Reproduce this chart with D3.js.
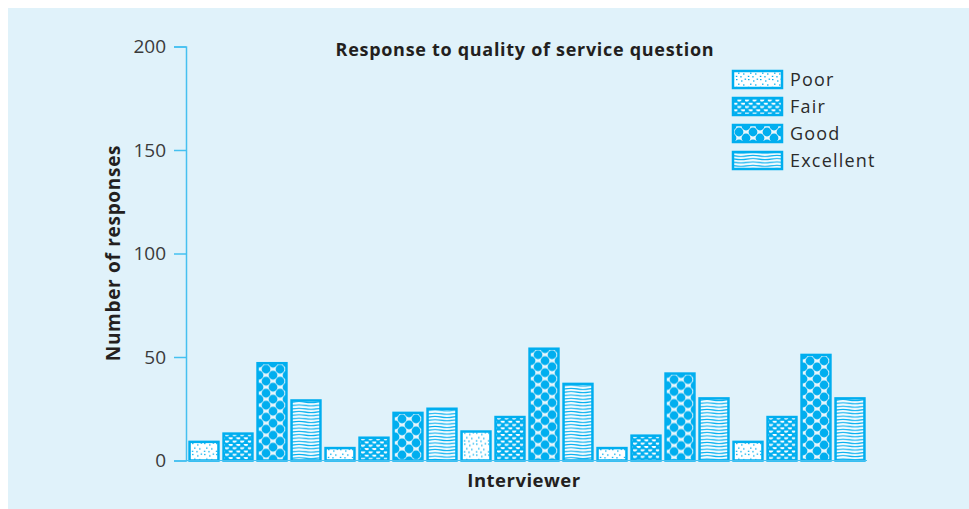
<!DOCTYPE html>
<html>
<head>
<meta charset="utf-8">
<script src="https://cdn.jsdelivr.net/npm/d3@7"></script>
<style>
  body { margin: 0; background: #fff; }
  text { font-family: "Open Sans", Roboto, sans-serif; }
</style>
</head>
<body>
<svg id="chart" width="969" height="509"></svg>
<script>
"use strict";
var interviewers = [1, 2, 3, 4, 5];
var categories = ["Poor", "Fair", "Good", "Excellent"];
var poor = [9, 6, 14, 6, 9];
var fair = [13, 11, 21, 12, 21];
var good = [47, 23, 54, 42, 51];
var excellent = [29, 25, 37, 30, 30];
var yTicks = [0, 50, 100, 150, 200];

var series = { Poor: poor, Fair: fair, Good: good, Excellent: excellent };
var blue = "#00aeef";
var axisBlue = "#45c0f0";
var ink = "#231f20";

var svg = d3.select("#chart");
var defs = svg.append("defs");

// background panel
svg.append("rect")
  .attr("x", 8).attr("y", 8)
  .attr("width", 961).attr("height", 501)
  .attr("fill", "#e0f2fa");

var y = d3.scaleLinear().domain([0, 200]).range([460.5, 46.5]);
var x0 = d3.scaleBand().domain(interviewers).range([187, 867]).padding(0);
var x1 = d3.scaleBand().domain(categories).range([0, x0.bandwidth()])
  .paddingInner(0.15).paddingOuter(0.075);

// patterns, one builder for each fill style
var stipple = [[1,1],[6,2.4],[9.6,0.6],[3,5.6],[8,6.4],[0.8,8.8],[5.2,9.2]];
function makePattern(id, cat, ox, oy) {
  var p = defs.append("pattern").attr("id", id)
    .attr("patternUnits", "userSpaceOnUse")
    .attr("x", ox).attr("y", oy);
  if (cat === "Poor") {
    p.attr("width", 12).attr("height", 11);
    p.append("rect").attr("width", 12).attr("height", 11).attr("fill", "#fff");
    stipple.forEach(function(d) {
      p.append("rect").attr("x", d[0]).attr("y", d[1])
        .attr("width", 1.5).attr("height", 1.2).attr("fill", blue);
    });
  } else if (cat === "Fair") {
    p.attr("width", 7.6).attr("height", 6.6);
    p.append("rect").attr("width", 7.6).attr("height", 6.6).attr("fill", blue);
    [[1.9, 1.5], [5.7, 4.8]].forEach(function(d) {
      p.append("path")
        .attr("d", "M" + (d[0] - 2.4) + "," + (d[1] - 1) +
          " h4.8 a2.4,2 0 0 1 -4.8,0 z")
        .attr("fill", "#fff");
    });
  } else if (cat === "Good") {
    p.attr("width", 14).attr("height", 12);
    p.append("rect").attr("width", 14).attr("height", 12).attr("fill", "#e9f6fc");
    [[0,0],[14,0],[7,6],[0,12],[14,12]].forEach(function(d) {
      p.append("circle").attr("cx", d[0]).attr("cy", d[1])
        .attr("r", 4.4).attr("fill", blue);
    });
  } else {
    p.attr("width", 24).attr("height", 3.3);
    p.append("rect").attr("width", 24).attr("height", 3.3).attr("fill", "#f4fbfe");
    p.append("path")
      .attr("d", "M0,1.65 Q6,0.5 12,1.65 T24,1.65")
      .attr("fill", "none").attr("stroke", blue).attr("stroke-width", 1.1);
  }
}

// bars
var barData = [];
interviewers.forEach(function(iv, i) {
  categories.forEach(function(c) {
    barData.push({ iv: iv, cat: c, value: series[c][i] });
  });
});

barData.forEach(function(d, i) {
  makePattern("pat" + i, d.cat, x0(d.iv) + x1(d.cat) + 1.5, y(d.value));
});

svg.append("g").selectAll("rect")
  .data(barData)
  .join("rect")
  .attr("x", function(d) { return x0(d.iv) + x1(d.cat); })
  .attr("y", function(d) { return y(d.value); })
  .attr("width", x1.bandwidth())
  .attr("height", function(d) { return y(0) - y(d.value); })
  .attr("fill", function(d, i) { return "url(#pat" + i + ")"; })
  .attr("stroke", blue)
  .attr("stroke-width", 2.5);

// baseline
svg.append("line")
  .attr("x1", 186).attr("x2", 867)
  .attr("y1", y(0)).attr("y2", y(0))
  .attr("stroke", axisBlue).attr("stroke-width", 1.2);

// y axis
var yAxis = svg.append("g")
  .attr("transform", "translate(186,0)")
  .call(d3.axisLeft(y).tickValues(yTicks).tickSize(12).tickPadding(8));
yAxis.select(".domain").attr("stroke", axisBlue).attr("stroke-width", 1.5);
yAxis.selectAll(".tick line").attr("stroke", axisBlue).attr("stroke-width", 1.5);
yAxis.selectAll(".tick text")
  .attr("fill", "#3a3a3a")
  .attr("font-size", 19)
  .style("font-family", "'Open Sans', sans-serif");

// titles
svg.append("text")
  .attr("x", 525).attr("y", 56)
  .attr("text-anchor", "middle")
  .attr("font-size", 18).attr("font-weight", "bold")
  .attr("letter-spacing", 0.7)
  .attr("fill", ink)
  .text("Response to quality of service question");

svg.append("text")
  .attr("transform", "translate(120,253) rotate(-90)")
  .attr("text-anchor", "middle")
  .attr("font-size", 19).attr("font-weight", "bold")
  .attr("letter-spacing", 0.7)
  .attr("fill", ink)
  .text("Number of responses");

svg.append("text")
  .attr("x", 524).attr("y", 487)
  .attr("text-anchor", "middle")
  .attr("font-size", 18.5).attr("font-weight", "bold")
  .attr("letter-spacing", 0.5)
  .attr("fill", ink)
  .text("Interviewer");

// legend
var legend = svg.append("g").attr("transform", "translate(733,71)");
categories.forEach(function(c, i) {
  makePattern("leg" + i, c, 734, 73 + i * 27);
  var row = legend.append("g").attr("transform", "translate(0," + (i * 27) + ")");
  row.append("rect")
    .attr("width", 49).attr("height", 17)
    .attr("fill", "url(#leg" + i + ")")
    .attr("stroke", blue).attr("stroke-width", 2.5);
  row.append("text")
    .attr("x", 57).attr("y", 15)
    .attr("font-size", 18)
    .attr("letter-spacing", 1.2)
    .attr("fill", "#2b2b2b")
    .text(c);
});
</script>
</body>
</html>
